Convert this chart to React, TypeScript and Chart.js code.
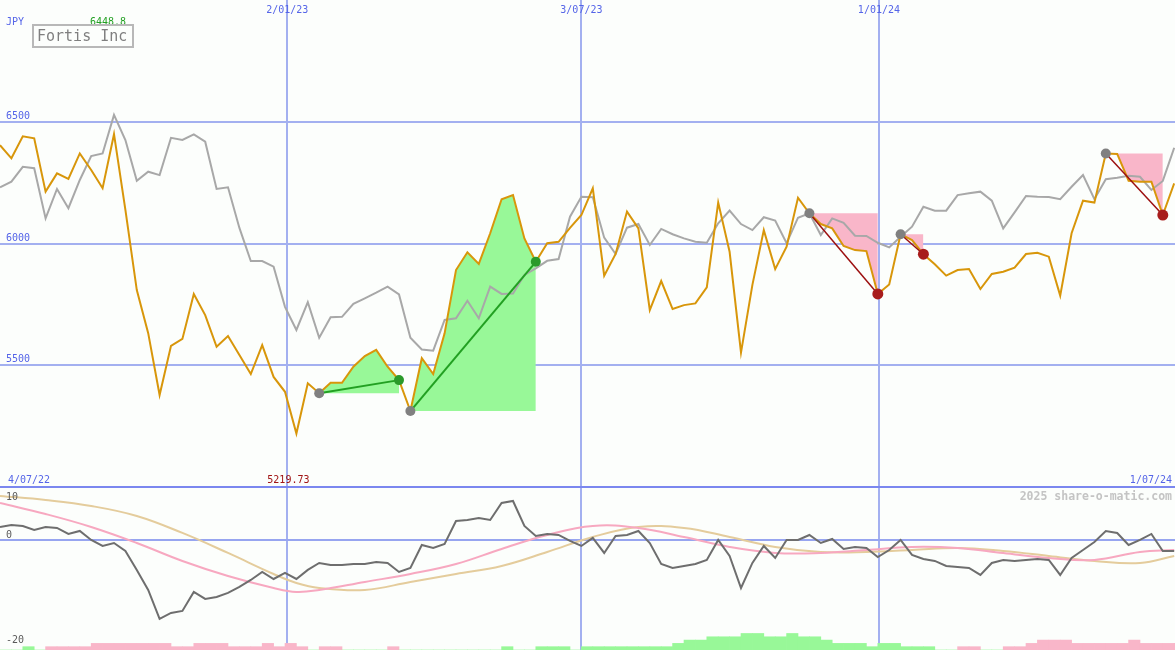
import React, { useEffect, useRef } from "react";
import { Chart, registerables } from "chart.js";

Chart.register(...registerables);

// ---------- data ----------
const TITLE = "Fortis Inc";
const CURRENCY = "JPY";
const WATERMARK = "2025 share-o-matic.com";

const DATE_LABELS = ["4/07/22", "2/01/23", "3/07/23", "1/01/24", "1/07/24"];
const DATE_POS = [0, 25.2, 51.0, 77.1, 103.07];

const Y_TICKS = [5500, 6000, 6500];
const Y_BASE = 5000;
const LOWER_TICKS = [10, 0, -20];

// weekly closing price (orange)
const PRICE = [
  6404, 6350, 6440, 6432, 6213, 6288, 6265, 6370, 6302, 6227,
  6448.8, 6138, 5809, 5632, 5378, 5580, 5608, 5793, 5706, 5576,
  5620, 5542, 5464, 5583, 5452, 5391, 5219.73, 5426, 5385, 5428,
  5428, 5494, 5538, 5563, 5494, 5439, 5312, 5529, 5464, 5631,
  5891, 5964, 5916, 6042, 6182, 6199, 6021, 5925, 6001, 6007,
  6064, 6117, 6227, 5868, 5957, 6131, 6062, 5727, 5846, 5731,
  5747, 5754, 5820, 6168, 5966, 5552, 5830, 6055, 5895, 5987,
  6188, 6124, 6080, 6062, 5990, 5973, 5969, 5793, 5832, 6038,
  6014, 5956, 5915, 5868, 5891, 5895, 5813, 5875, 5884, 5901,
  5957, 5962, 5946, 5786, 6042, 6176, 6168, 6370, 6368, 6258,
  6254, 6254, 6117, 6247,
];

// relative / comparison line (gray)
const RELATIVE = [
  6231, 6254, 6315, 6309, 6103, 6224, 6145, 6261, 6359, 6370,
  6528, 6425, 6258, 6295, 6281, 6434, 6425, 6448, 6418, 6224,
  6231, 6064, 5928, 5928, 5905, 5740, 5645, 5759, 5613, 5697,
  5699, 5752, 5775, 5798, 5823, 5791, 5613, 5565, 5560, 5686,
  5693, 5765, 5693, 5823, 5793, 5795, 5871, 5898, 5929, 5936,
  6110, 6192, 6190, 6024, 5957, 6065, 6080, 5994, 6060, 6038,
  6021, 6007, 6003, 6083, 6135, 6080, 6055, 6108, 6094, 6001,
  6106, 6124, 6035, 6103, 6085, 6032, 6031, 6003, 5984, 6028,
  6069, 6151, 6135, 6135, 6199, 6206, 6213, 6176, 6062, 6128,
  6195, 6192, 6191, 6182, 6233, 6281, 6182, 6264, 6270, 6278,
  6274, 6220, 6257, 6393,
];

// trend annotations (start / end week index)
const TREND_START = [28, 36, 71, 79, 97];
const TREND_END = [35, 47, 77, 81, 102];

// lower panel: momentum (dark gray)
const MOMENTUM = [
  2.55, 2.93, 2.74, 1.97, 2.55, 2.35, 1.21, 1.78, 0.06, -1.09,
  -0.52, -2.05, -5.68, -9.51, -15.06, -13.91, -13.53, -9.89, -11.23, -10.85,
  -10.08, -8.94, -7.6, -6.07, -7.41, -6.26, -7.41, -5.68, -4.34, -4.73,
  -4.73, -4.53, -4.53, -4.15, -4.34, -6.07, -5.3, -0.9, -1.47, -0.71,
  3.69, 3.88, 4.27, 3.88, 7.14, 7.52, 2.74, 0.82, 1.21, 1.01,
  -0.13, -1.09, 0.44, -2.43, 0.82, 1.01, 1.78, -0.52, -4.53, -5.3,
  -4.92, -4.53, -3.77, 0.06, -3.0, -9.13, -4.34, -1.09, -3.39, 0.06,
  0.06, 1.01, -0.52, 0.25, -1.66, -1.28, -1.47, -3.2, -1.86, 0.06,
  -2.81, -3.58, -3.96, -4.92, -5.11, -5.3, -6.64, -4.34, -3.77, -3.96,
  -3.77, -3.58, -3.77, -6.64, -3.39, -1.86, -0.33, 1.78, 1.4, -0.9,
  0.06, 1.21, -2.05, -2.05,
];

// lower panel smooth averages, sampled at these week indices
const AVG_IDX = [0, 4, 8, 12, 16, 20, 24, 26, 28, 32, 36, 40, 44, 48, 52, 56, 60, 64, 68, 72, 76, 80, 84, 88, 92, 96, 100, 103];
const AVG_FAST = [7.14, 5.03, 2.55, -0.52, -3.96, -6.83, -9.13, -9.89, -9.51, -7.98, -6.45, -4.54, -1.66, 1.01, 2.74, 2.35, 0.63, -1.28, -2.43, -2.43, -1.86, -1.28, -1.47, -2.43, -3.39, -3.77, -2.24, -1.86];
const AVG_SLOW = [8.48, 7.71, 6.56, 4.65, 1.4, -2.43, -6.45, -8.17, -9.13, -9.51, -7.98, -6.45, -4.92, -2.24, 0.63, 2.55, 2.35, 0.63, -1.28, -2.24, -2.24, -1.86, -1.47, -2.05, -3.0, -3.96, -4.35, -3.0];

// lower panel histogram strip (+ green, - pink), in levels
const HIST = [
  0, 0, 1, 0, -1, -1, -1, -1, -2, -2,
  -2, -2, -2, -2, -2, -1, -1, -2, -2, -2,
  -1, -1, -1, -2, -1, -2, -1, 0, -1, -1,
  0, 0, 0, 0, -1, 0, 0, 0, 0, 0,
  0, 0, 0, 0, 1, 0, 0, 1, 1, 1,
  0, 1, 1, 1, 1, 1, 1, 1, 1, 2,
  3, 3, 4, 4, 4, 5, 5, 4, 4, 5,
  4, 4, 3, 2, 2, 2, 1, 2, 2, 1,
  1, 1, 0, 0, -1, -1, 0, 0, -1, -1,
  -2, -3, -3, -3, -2, -2, -2, -2, -2, -3,
  -2, -2, -2, -2,
];

// ---------- styles ----------
const BG = "#fcfefc";
const FONT = '"DejaVu Sans Mono", "Liberation Mono", monospace';
const GRID = "#a3b0f0";
const SEP = "#7b87ef";
const BLUE_TEXT = "#5565e8";
const ORANGE = "#d8960a";
const GRAY = "#a8a8a8";
const GREEN_FILL = "#98f898";
const PINK_FILL = "#f9b6c9";
const GREEN_LINE = "#22a022";
const RED_LINE = "#9c1010";
const START_MARK = "#808080";
const GREEN_MARK = "#2a9a2a";
const RED_MARK = "#a81c1c";

const IDX = PRICE.map((_, i) => i);
const X_MAX = DATE_POS[DATE_POS.length - 1];

function xScale(): any {
  return {
    type: "linear",
    min: 0,
    max: X_MAX,
    offset: false,
    afterBuildTicks: (s: any) => {
      s.ticks = DATE_POS.slice(1, DATE_POS.length - 1).map((v) => ({ value: v }));
    },
    ticks: { display: false },
    grid: { color: GRID, lineWidth: 2, drawTicks: false, offset: false },
    border: { display: false },
  };
}

const mainText = {
  id: "mainText",
  afterDraw(chart: any) {
    const { ctx, scales, chartArea } = chart;
    const x = scales.x;
    const y = scales.y;
    ctx.save();
    ctx.font = `10px ${FONT}`;
    ctx.fillStyle = BLUE_TEXT;
    ctx.textAlign = "left";
    ctx.textBaseline = "alphabetic";
    Y_TICKS.forEach((v) => ctx.fillText(String(v), 6, y.getPixelForValue(v) - 3));
    ctx.fillText(CURRENCY, 6, 25);
    ctx.textAlign = "center";
    for (let k = 1; k < DATE_LABELS.length - 1; k++) {
      ctx.fillText(DATE_LABELS[k], x.getPixelForValue(DATE_POS[k]), 13);
    }
    ctx.textAlign = "left";
    ctx.fillText(DATE_LABELS[0], chartArea.left + 8, chartArea.bottom - 5);
    ctx.textAlign = "right";
    ctx.fillText(DATE_LABELS[DATE_LABELS.length - 1], chartArea.right - 3, chartArea.bottom - 5);

    let hi = 0;
    let lo = 0;
    PRICE.forEach((v, i) => {
      if (v > PRICE[hi]) hi = i;
      if (v < PRICE[lo]) lo = i;
    });
    ctx.textAlign = "center";
    ctx.fillStyle = "#22a022";
    ctx.fillText(String(PRICE[hi]), x.getPixelForValue(hi) - 6, 25);
    ctx.fillStyle = "#a01414";
    ctx.fillText(String(PRICE[lo]), x.getPixelForValue(lo) - 8, chartArea.bottom - 5);

    ctx.strokeStyle = "#b8b8b8";
    ctx.lineWidth = 2;
    ctx.strokeRect(33, 25, 100, 22);
    ctx.font = `15px ${FONT}`;
    ctx.fillStyle = "#7f7f7f";
    ctx.textAlign = "left";
    ctx.fillText(TITLE, 37, 41);
    ctx.restore();
  },
};

const lowerText = {
  id: "lowerText",
  afterDraw(chart: any) {
    const { ctx, scales, chartArea } = chart;
    const y = scales.y;
    ctx.save();
    ctx.font = `10px ${FONT}`;
    ctx.fillStyle = "#5a5a5a";
    ctx.textAlign = "left";
    ctx.textBaseline = "alphabetic";
    LOWER_TICKS.forEach((v) => {
      const py = y.getPixelForValue(v);
      const yy = py - 10 < chartArea.top ? chartArea.top + 12 : py - 2;
      ctx.fillText(String(v), 6, yy);
    });
    ctx.font = `bold 11.5px ${FONT}`;
    ctx.fillStyle = "#c4c4c4";
    ctx.textAlign = "right";
    ctx.fillText(WATERMARK, chartArea.right - 3, chartArea.top + 12);
    ctx.restore();
  },
};

export default function App() {
  const mainRef = useRef<HTMLCanvasElement>(null);
  const lowRef = useRef<HTMLCanvasElement>(null);

  useEffect(() => {
    const fills = TREND_START.map((s, k) => {
      const e = TREND_END[k];
      const up = PRICE[e] > PRICE[s];
      return {
        type: "line",
        data: IDX.slice(s, e + 1).map((i) => ({ x: i, y: PRICE[i] })),
        borderColor: "rgba(0,0,0,0)",
        borderWidth: 0,
        backgroundColor: up ? GREEN_FILL : PINK_FILL,
        fill: { value: PRICE[s] },
        pointRadius: 0,
        order: 10,
      };
    });
    const trends = TREND_START.map((s, k) => {
      const e = TREND_END[k];
      const up = PRICE[e] > PRICE[s];
      return {
        type: "line",
        data: [
          { x: s, y: PRICE[s] },
          { x: e, y: PRICE[e] },
        ],
        borderColor: up ? GREEN_LINE : RED_LINE,
        borderWidth: up ? 2 : 1.5,
        pointRadius: [5, up ? 5 : 5.5],
        pointBackgroundColor: [START_MARK, up ? GREEN_MARK : RED_MARK],
        pointBorderWidth: 0,
        fill: false,
        order: 0,
      };
    });

    const main = new Chart(mainRef.current as HTMLCanvasElement, {
      type: "line",
      data: {
        datasets: [
          ...trends,
          {
            data: IDX.map((i) => ({ x: i, y: PRICE[i] })),
            borderColor: ORANGE,
            borderWidth: 2,
            pointRadius: 0,
            fill: false,
            order: 2,
          },
          {
            data: IDX.map((i) => ({ x: i, y: RELATIVE[i] })),
            borderColor: GRAY,
            borderWidth: 2,
            pointRadius: 0,
            fill: false,
            order: 3,
          },
          ...fills,
        ] as any,
      },
      options: {
        responsive: false,
        animation: false,
        events: [],
        layout: { padding: 0, autoPadding: false },
        plugins: { legend: { display: false }, tooltip: { enabled: false } },
        scales: {
          x: xScale(),
          y: {
            type: "linear",
            min: 4996,
            max: 7000,
            afterBuildTicks: (s: any) => {
              s.ticks = [Y_BASE, ...Y_TICKS].map((v) => ({ value: v }));
            },
            ticks: { display: false },
            grid: {
              color: (c: any) => (c.tick && c.tick.value === Y_BASE ? SEP : GRID),
              lineWidth: 2,
              drawTicks: false,
            },
            border: { display: false },
          },
        },
      } as any,
      plugins: [mainText],
    });

    const low = new Chart(lowRef.current as HTMLCanvasElement, {
      type: "line",
      data: {
        datasets: [
          {
            data: IDX.map((i) => ({ x: i, y: MOMENTUM[i] })),
            borderColor: "#6e6e6e",
            borderWidth: 2,
            pointRadius: 0,
            order: 1,
          },
          {
            data: AVG_IDX.map((i, k) => ({ x: i, y: AVG_FAST[k] })),
            borderColor: "#f7a8c0",
            borderWidth: 2,
            pointRadius: 0,
            tension: 0.4,
            order: 2,
          },
          {
            data: AVG_IDX.map((i, k) => ({ x: i, y: AVG_SLOW[k] })),
            borderColor: "#e4cc9c",
            borderWidth: 2,
            pointRadius: 0,
            tension: 0.4,
            order: 3,
          },
          {
            type: "bar",
            yAxisID: "yBar",
            data: IDX.map((i) => ({ x: i + 0.5, y: Math.abs(HIST[i]) })),
            backgroundColor: HIST.map((v) => (v >= 0 ? GREEN_FILL : PINK_FILL)),
            borderWidth: 0,
            barPercentage: 1,
            categoryPercentage: 1,
            order: 10,
          },
        ] as any,
      },
      options: {
        responsive: false,
        animation: false,
        events: [],
        layout: { padding: 0, autoPadding: false },
        plugins: { legend: { display: false }, tooltip: { enabled: false } },
        scales: {
          x: xScale(),
          y: {
            type: "linear",
            min: -21,
            max: 10,
            afterBuildTicks: (s: any) => {
              s.ticks = [{ value: 0 }];
            },
            ticks: { display: false },
            grid: { color: "#97a5f0", lineWidth: 2, drawTicks: false },
            border: { display: false },
          },
          yBar: {
            type: "linear",
            min: 0,
            max: 49,
            display: false,
          },
        },
      } as any,
      plugins: [lowerText],
    });

    return () => {
      main.destroy();
      low.destroy();
    };
  }, []);

  return (
    <div style={{ position: "absolute", left: 0, top: 0, width: 1175, height: 650, background: BG, overflow: "hidden" }}>
      <canvas ref={mainRef} width={1175} height={488} style={{ position: "absolute", left: 0, top: 0 }} />
      <canvas ref={lowRef} width={1175} height={162} style={{ position: "absolute", left: 0, top: 488 }} />
    </div>
  );
}
